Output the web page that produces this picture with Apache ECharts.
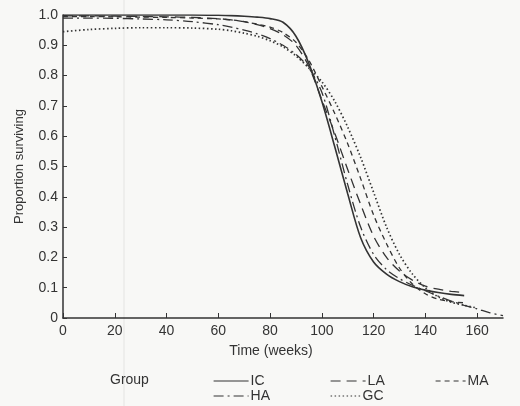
<!DOCTYPE html>
<html><head><meta charset="utf-8">
<script src="https://cdn.jsdelivr.net/npm/echarts@6/dist/echarts.min.js"></script>
<style>html,body{margin:0;padding:0;background:#f8f8f6}#c{width:520px;height:406px}</style>
</head><body><div id="c"></div>
<script>
const weeks = [0,10,20,30,40,50,60,65,70,75,80,85,90,95,100,105,110,115,120,125,130,135,140,145,150,155,160,165,170];
const IC = [1.0,1.0,1.0,1.0,1.0,1.0,0.999,0.998,0.996,0.993,0.988,0.976,0.93,0.84,0.715,0.565,0.41,0.265,0.185,0.145,0.12,0.103,0.092,0.084,0.078,0.074,null,null,null];
const LA = [0.997,0.997,0.996,0.995,0.994,0.992,0.988,0.984,0.978,0.968,0.955,0.935,0.9,0.83,0.72,0.61,0.49,0.375,0.27,0.2,0.155,0.125,0.105,0.095,0.088,0.084,null,null,null];
const MA = [0.995,0.995,0.994,0.993,0.992,0.99,0.987,0.984,0.978,0.97,0.96,0.942,0.91,0.85,0.765,0.675,0.575,0.46,0.34,0.245,0.165,0.112,0.08,0.062,0.054,0.05,null,null,null];
const HA = [0.99,0.99,0.989,0.987,0.984,0.978,0.968,0.96,0.95,0.938,0.922,0.9,0.87,0.825,0.745,0.6,0.44,0.3,0.21,0.16,0.13,0.108,0.09,0.072,0.056,0.042,0.03,0.017,0.008];
const GC = [0.945,0.952,0.956,0.958,0.958,0.957,0.953,0.948,0.94,0.93,0.915,0.895,0.865,0.825,0.78,0.715,0.63,0.53,0.415,0.3,0.21,0.145,0.1,0.07,0.052,0.042,0.033,null,null];
const xTicks = [0,20,40,60,80,100,120,140,160];
const yTicks = [0,0.1,0.2,0.3,0.4,0.5,0.6,0.7,0.8,0.9,1.0];

const ink = '#333';
const font = 'Liberation Sans, Arial, sans-serif';
function pairs(arr){ const out=[]; arr.forEach((v,i)=>{ if(v!==null) out.push([weeks[i], v]); }); return out; }
function ser(name, arr, type, width){
  return {name, type:'line', data:pairs(arr), smooth:0.3, symbol:'none',
    lineStyle:{color:ink, width:width||1.3, type:type}, itemStyle:{color:ink}, z:3};
}
const chart = echarts.init(document.getElementById('c'), null, {renderer:'canvas'});
const legText = {color:ink, fontSize:14, fontFamily:font, padding:[0,0,0,-3]};
function leg(name, left, top, w){ return {data:[name], left, top, itemWidth:w, itemHeight:12, padding:0,
  textStyle:legText, selectedMode:false, itemStyle:{opacity:0}, lineStyle:{width:1.2}}; }
chart.setOption({
  backgroundColor:'#f8f8f6',
  animation:false,
  textStyle:{fontFamily:font},
  grid:{left:63, right:17, top:15, bottom:88},
  xAxis:{type:'value', min:0, max:170, interval:20,
    name:'Time (weeks)', nameLocation:'middle', nameGap:26,
    nameTextStyle:{color:ink, fontSize:14, fontFamily:font, padding:[0,24,0,0]},
    axisLine:{lineStyle:{color:ink, width:1.5}},
    axisTick:{inside:true, length:5, lineStyle:{color:ink}, customValues:xTicks},
    axisLabel:{color:ink, fontSize:14, fontFamily:font, margin:6, customValues:xTicks},
    splitLine:{show:false}},
  yAxis:{type:'value', min:0, max:1.0, interval:0.1,
    name:'Proportion surviving', nameLocation:'middle', nameGap:37, nameRotate:90,
    nameTextStyle:{color:ink, fontSize:13, fontFamily:font},
    axisLine:{show:true, lineStyle:{color:ink, width:1.5}},
    axisTick:{show:true, inside:true, length:4, lineStyle:{color:ink}, customValues:yTicks},
    axisLabel:{color:ink, fontSize:14, fontFamily:font, margin:5, customValues:yTicks,
      formatter:v=> v===0 ? '0' : v.toFixed(1)},
    splitLine:{show:false}},
  legend:[
    leg('IC',213,374,35), leg('LA',330,374,35), leg('MA',435,374,30),
    leg('HA',213,389,35), leg('GC',330,389,30)
  ],
  graphic:[
    {type:'line', shape:{x1:124,y1:0,x2:124,y2:406}, style:{stroke:'#e4e4e2', lineWidth:1}, z:-1},
    {type:'text', left:110, top:373, style:{text:'Group', fill:ink, fontSize:14, fontFamily:font}}
  ],
  series:[
    ser('IC', IC, 'solid', 1.6),
    ser('LA', LA, [10,6], 1.3),
    ser('MA', MA, [5,4], 1.3),
    ser('HA', HA, [10,4,2,4], 1.3),
    ser('GC', GC, [1.5,2.5], 1.7)
  ]
});
</script></body></html>
